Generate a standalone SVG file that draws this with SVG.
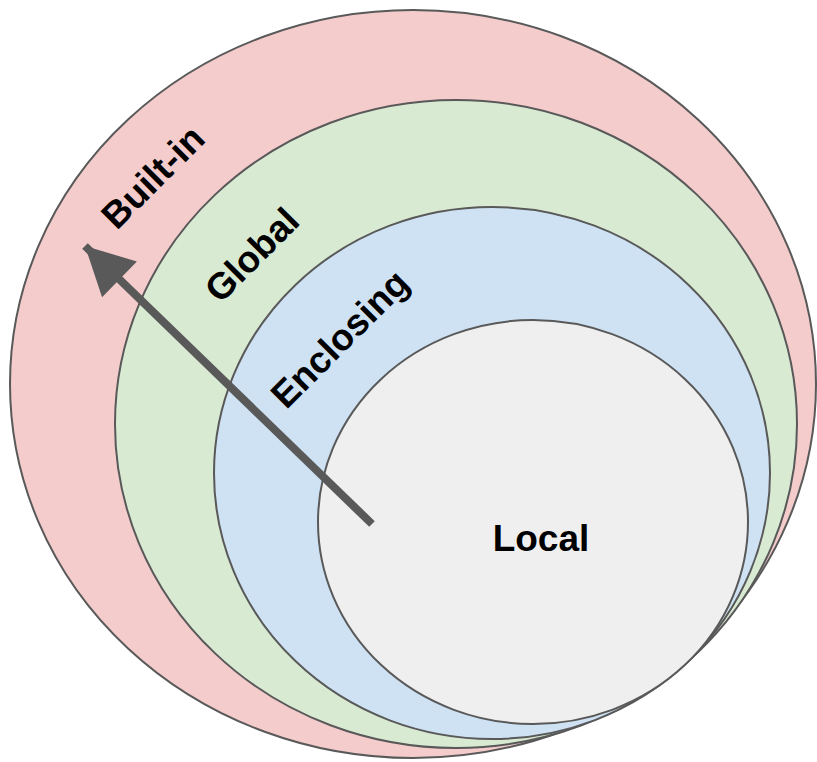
<svg xmlns="http://www.w3.org/2000/svg" width="817" height="762" viewBox="0 0 817 762">
<style>
.e{stroke:#595959;stroke-width:2}
.t{font-family:"Liberation Sans",Arial,sans-serif;font-weight:bold;font-size:37px;fill:#000}
</style>
<defs>
<marker id="ah" markerUnits="userSpaceOnUse" markerWidth="60" markerHeight="60" refX="0" refY="0" viewBox="-50 -30 60 60" orient="auto">
<path d="M0,0 L-48,-25 L-48,25 Z" fill="#595959"/>
</marker>
</defs>
<g id="builtin"><ellipse class="e" cx="413" cy="384" rx="403" ry="374" fill="#f4cccc"/></g>
<g id="global"><ellipse class="e" cx="456" cy="424" rx="341" ry="324" fill="#d9ead3"/></g>
<g id="enclosing"><ellipse class="e" cx="492" cy="473" rx="278" ry="266" fill="#cfe2f3"/></g>
<g id="local"><ellipse class="e" cx="533" cy="522" rx="215" ry="202" fill="#efefef"/></g>
<g id="connectors">
<line x1="372" y1="524" x2="85" y2="246" stroke="#595959" stroke-width="8" marker-end="url(#ah)"/>
</g>
<g id="labels">
<text class="t" transform="translate(153,177) rotate(-45)" text-anchor="middle" dominant-baseline="central">Built-in</text>
<text class="t" transform="translate(252,255) rotate(-45)" text-anchor="middle" dominant-baseline="central">Global</text>
<text class="t" transform="translate(340,339) rotate(-45)" text-anchor="middle" dominant-baseline="central">Enclosing</text>
<text class="t" x="541" y="538" text-anchor="middle" dominant-baseline="central">Local</text>
</g>
</svg>
